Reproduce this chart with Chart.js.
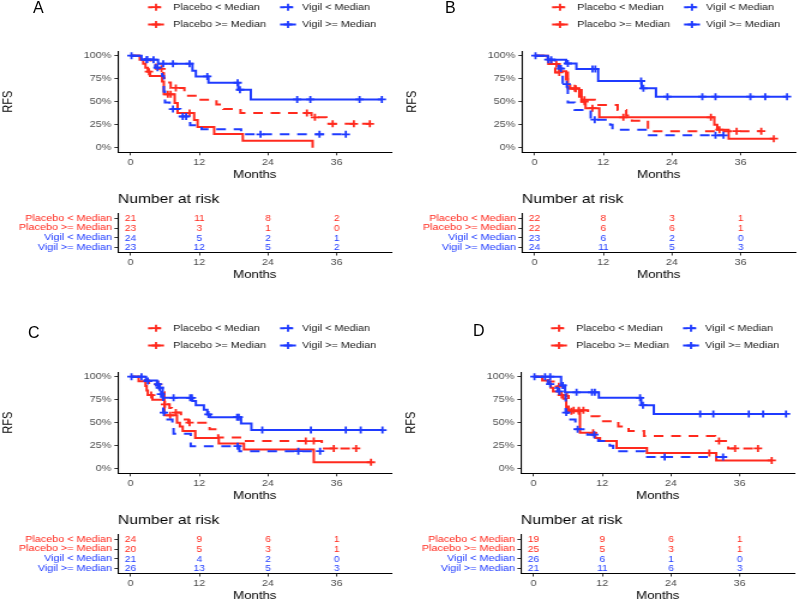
<!DOCTYPE html>
<html><head><meta charset="utf-8">
<script src="https://cdn.jsdelivr.net/npm/chart.js@4.4.1/dist/chart.umd.min.js"></script>
<style>
html,body{margin:0;padding:0;background:#fff;width:800px;height:601px;overflow:hidden;position:relative}
.wrap{position:absolute;transform-origin:0 0;}
.letter{position:absolute;font-family:"Liberation Sans",Arial,sans-serif;font-size:16px;color:#000;line-height:1}
</style></head><body>
<script>
// ---------------- DATA ----------------
const GROUP_NAMES = ['Placebo < Median', 'Placebo >= Median', 'Vigil < Median', 'Vigil >= Median'];
const X_TICKS = [0, 12, 24, 36];
const Y_TICKS = [0, 0.25, 0.5, 0.75, 1];
const RISK_TIMES = [0, 12, 24, 36];

// Panel A  (t = event times in months, s = survival after the event, c = censoring times)
const A_PL_LT_t = [2.5, 3.5, 4.4, 5.7, 5.8, 5.9, 7.0, 9.4, 11.9, 15.0, 16.2, 19.2, 31.6, 34.2];
const A_PL_LT_s = [0.952, 0.905, 0.857, 0.81, 0.76, 0.71, 0.65, 0.565, 0.52, 0.47, 0.42, 0.377, 0.33, 0.26];
const A_PL_LT_c = [5.4, 7.9, 30.8, 32.2, 35.3, 39.0, 41.8];
const A_PL_GE_t = [1.6, 2.2, 2.6, 3.0, 3.4, 5.5, 5.8, 7.7, 8.2, 11.1, 11.7, 14.6, 19.6, 31.8];
const A_PL_GE_s = [0.957, 0.913, 0.87, 0.826, 0.78, 0.72, 0.58, 0.485, 0.377, 0.30, 0.225, 0.15, 0.075, 0.0];
const A_PL_GE_c = [3.2, 6.5, 7.0, 10.3];
const A_VG_LT_t = [2.5, 4.3, 5.5, 5.8, 6.0, 6.8, 8.7, 10.4, 12.4, 19.3];
const A_VG_LT_s = [0.958, 0.87, 0.78, 0.61, 0.49, 0.42, 0.34, 0.245, 0.20, 0.145];
const A_VG_LT_c = [2.9, 4.7, 7.4, 9.1, 9.7, 22.7, 33.0, 37.6];
const A_VG_GE_t = [1.9, 4.8, 10.8, 11.4, 13.6, 18.8, 21.0];
const A_VG_GE_s = [0.957, 0.913, 0.837, 0.775, 0.706, 0.63, 0.525];
const A_VG_GE_c = [0.15, 2.8, 4.0, 5.7, 7.4, 10.3, 13.4, 18.7, 19.1, 29.1, 31.4, 40.0, 43.9];
const A_RISK_PL_LT = [21, 11, 8, 2];
const A_RISK_PL_GE = [23, 3, 1, 0];
const A_RISK_VG_LT = [24, 5, 2, 1];
const A_RISK_VG_GE = [23, 12, 5, 2];

// Panel B
const B_PL_LT_t = [1.6, 2.4, 3.0, 3.6, 5.8, 6.2, 8.2, 10.5, 14.5, 16.0, 17.0, 19.8];
const B_PL_LT_s = [0.955, 0.909, 0.864, 0.818, 0.74, 0.64, 0.52, 0.465, 0.41, 0.35, 0.293, 0.18];
const B_PL_LT_c = [4.3, 7.2, 8.7, 35.3, 39.6];
const B_PL_GE_t = [2.3, 2.9, 4.3, 5.5, 5.8, 7.8, 8.2, 8.9, 11.3, 31.4, 31.9, 33.9];
const B_PL_GE_s = [0.955, 0.91, 0.83, 0.74, 0.645, 0.555, 0.50, 0.43, 0.33, 0.25, 0.196, 0.098];
const B_PL_GE_c = [3.8, 7.0, 8.7, 10.1, 15.5, 30.8, 32.3, 41.8];
const B_VG_LT_t = [1.8, 3.5, 4.2, 4.9, 5.8, 7.0, 9.8, 13.2, 13.6, 19.4];
const B_VG_LT_s = [0.957, 0.91, 0.86, 0.69, 0.49, 0.41, 0.305, 0.25, 0.196, 0.134];
const B_VG_LT_c = [2.4, 4.6, 5.6, 10.5, 31.6, 33.0];
const B_VG_GE_t = [2.3, 5.5, 7.3, 11.1, 18.7, 21.2];
const B_VG_GE_s = [0.957, 0.915, 0.855, 0.725, 0.645, 0.555];
const B_VG_GE_c = [0.15, 2.9, 5.8, 10.1, 10.6, 18.6, 19.0, 23.2, 29.3, 31.6, 37.7, 40.3, 44.1];
const B_RISK_PL_LT = [22, 8, 3, 1];
const B_RISK_PL_GE = [22, 6, 6, 1];
const B_RISK_VG_LT = [23, 6, 2, 0];
const B_RISK_VG_GE = [24, 11, 5, 3];

// Panel C
const C_PL_LT_t = [2.5, 3.2, 5.0, 5.6, 5.9, 6.8, 7.2, 8.8, 10.1, 13.8, 15.3, 19.1, 33.4];
const C_PL_LT_s = [0.958, 0.917, 0.875, 0.83, 0.70, 0.66, 0.61, 0.535, 0.50, 0.43, 0.34, 0.30, 0.22];
const C_PL_LT_c = [4.8, 6.0, 7.9, 10.3, 30.6, 32.0, 35.5, 39.4];
const C_PL_GE_t = [1.4, 2.6, 2.8, 3.0, 3.8, 5.9, 8.1, 8.6, 9.1, 11.3, 15.4, 19.8, 32.0];
const C_PL_GE_s = [0.95, 0.90, 0.85, 0.80, 0.75, 0.58, 0.50, 0.46, 0.41, 0.335, 0.275, 0.21, 0.07];
const C_PL_GE_c = [3.6, 6.9, 42.0];
const C_VG_LT_t = [2.5, 4.2, 5.0, 5.7, 6.0, 7.3, 7.5, 10.5, 19.0];
const C_VG_LT_s = [0.952, 0.905, 0.81, 0.61, 0.535, 0.46, 0.38, 0.245, 0.19];
const C_VG_LT_c = [3.0, 5.3, 5.8, 18.7, 29.3, 33.1];
const C_VG_GE_t = [2.7, 4.6, 5.0, 5.6, 10.8, 11.4, 12.8, 13.4, 13.9, 19.3, 21.1];
const C_VG_GE_s = [0.96, 0.92, 0.88, 0.77, 0.735, 0.69, 0.64, 0.59, 0.56, 0.49, 0.42];
const C_VG_GE_c = [0.15, 1.9, 4.8, 5.1, 7.5, 10.4, 10.7, 13.6, 18.6, 18.9, 23.0, 31.5, 37.6, 40.2, 44.0];
const C_RISK_PL_LT = [24, 9, 6, 1];
const C_RISK_PL_GE = [20, 5, 3, 1];
const C_RISK_VG_LT = [21, 4, 2, 0];
const C_RISK_VG_GE = [26, 13, 5, 3];

// Panel D
const D_PL_LT_t = [2.5, 3.8, 5.2, 5.8, 6.1, 9.5, 11.5, 14.8, 16.6, 19.3, 31.7, 34.0];
const D_PL_LT_s = [0.947, 0.895, 0.84, 0.79, 0.635, 0.57, 0.516, 0.46, 0.41, 0.355, 0.30, 0.22];
const D_PL_LT_c = [4.4, 7.0, 7.9, 8.7, 32.4, 35.2, 39.2];
const D_PL_GE_t = [1.5, 2.6, 3.0, 3.4, 4.5, 5.2, 5.7, 8.1, 10.8, 11.6, 14.5, 19.8, 31.9];
const D_PL_GE_s = [0.96, 0.92, 0.88, 0.84, 0.80, 0.76, 0.625, 0.39, 0.335, 0.30, 0.225, 0.17, 0.09];
const D_PL_GE_c = [4.9, 6.6, 7.9, 10.4, 30.7, 41.6];
const D_VG_LT_t = [2.0, 2.5, 3.8, 4.2, 5.6, 6.0, 7.3, 9.4, 11.3, 13.3, 13.9, 19.4];
const D_VG_LT_s = [0.96, 0.92, 0.88, 0.84, 0.61, 0.535, 0.43, 0.37, 0.30, 0.25, 0.19, 0.127];
const D_VG_LT_c = [2.9, 4.5, 5.7, 7.7, 10.6, 22.9, 33.1];
const D_VG_GE_t = [4.8, 5.5, 11.4, 18.8, 21.0];
const D_VG_GE_s = [0.905, 0.83, 0.77, 0.69, 0.595];
const D_VG_GE_c = [0.15, 2.0, 2.9, 5.1, 7.5, 10.2, 10.7, 18.6, 19.1, 29.1, 31.4, 37.6, 40.1, 44.1];
const D_RISK_PL_LT = [19, 9, 6, 1];
const D_RISK_PL_GE = [25, 5, 3, 1];
const D_RISK_VG_LT = [26, 6, 1, 0];
const D_RISK_VG_GE = [21, 11, 6, 3];

// ---------------- STYLE / LAYOUT ----------------
const K = 1.2;               // horizontal stretch of the original figure
const FONT = '"Liberation Sans", Arial, Helvetica, sans-serif';
const RED = '#FF2A1E', BLUE = '#1F3BFF';
const LW = 2;
const XMIN = -2.2, XMAX = 45.6;
const PLOT_LEFT = 118, PLOT_RIGHT = 392, PLOT_TOP = 51.1, PLOT_BOTTOM = 152.3, KM_H = 185;
const TAB_TOP = 185, TAB_H = 100, TAB_AREA_TOP = 213.3, TAB_AREA_BOTTOM = 252.5;

const PANELS = [
  {letter: 'A', ox: 0,   oy: 0,   lx: 33,  ly: 0,
   groups: [[A_PL_LT_t, A_PL_LT_s, A_PL_LT_c], [A_PL_GE_t, A_PL_GE_s, A_PL_GE_c], [A_VG_LT_t, A_VG_LT_s, A_VG_LT_c], [A_VG_GE_t, A_VG_GE_s, A_VG_GE_c]],
   risk: [A_RISK_PL_LT, A_RISK_PL_GE, A_RISK_VG_LT, A_RISK_VG_GE]},
  {letter: 'B', ox: 404, oy: 0,   lx: 445, ly: 0,
   groups: [[B_PL_LT_t, B_PL_LT_s, B_PL_LT_c], [B_PL_GE_t, B_PL_GE_s, B_PL_GE_c], [B_VG_LT_t, B_VG_LT_s, B_VG_LT_c], [B_VG_GE_t, B_VG_GE_s, B_VG_GE_c]],
   risk: [B_RISK_PL_LT, B_RISK_PL_GE, B_RISK_VG_LT, B_RISK_VG_GE]},
  {letter: 'C', ox: 0,   oy: 321, lx: 28,  ly: 324.7,
   groups: [[C_PL_LT_t, C_PL_LT_s, C_PL_LT_c], [C_PL_GE_t, C_PL_GE_s, C_PL_GE_c], [C_VG_LT_t, C_VG_LT_s, C_VG_LT_c], [C_VG_GE_t, C_VG_GE_s, C_VG_GE_c]],
   risk: [C_RISK_PL_LT, C_RISK_PL_GE, C_RISK_VG_LT, C_RISK_VG_GE]},
  {letter: 'D', ox: 403, oy: 321, lx: 473, ly: 323,
   groups: [[D_PL_LT_t, D_PL_LT_s, D_PL_LT_c], [D_PL_GE_t, D_PL_GE_s, D_PL_GE_c], [D_VG_LT_t, D_VG_LT_s, D_VG_LT_c], [D_VG_GE_t, D_VG_GE_s, D_VG_GE_c]],
   risk: [D_RISK_PL_LT, D_RISK_PL_GE, D_RISK_VG_LT, D_RISK_VG_GE]}
];
const GROUP_COLOR = [RED, RED, BLUE, BLUE];
const GROUP_DASHED = [true, false, true, false];
// legend slots (css px relative to panel): [symbol start, symbol end, text start, row y]
const LEGEND_SLOTS = [[148, 164, 173, 7.2], [148, 164, 173, 24.5], [280, 296, 302, 7.2], [280, 296, 302, 24.5]];

function buildSteps(t, s, c) {
  const pts = [{x: 0, y: 1}];
  const all = t.map((v, i) => ({x: v, y: s[i], c: false})).concat(c.map(v => ({x: v, c: true})))
    .sort((a, b) => a.x - b.x);
  let level = 1;
  for (const p of all) {
    if (p.c) pts.push({x: p.x, y: level, c: true});
    else { level = p.y; pts.push({x: p.x, y: p.y, c: false}); }
  }
  return pts;
}

function makeCanvas(left, top, h) {
  const wrap = document.createElement('div');
  wrap.className = 'wrap';
  wrap.style.left = left + 'px';
  wrap.style.top = top + 'px';
  wrap.style.transform = 'scaleX(' + K + ')';
  const cv = document.createElement('canvas');
  cv.width = Math.round(400 / K);
  cv.height = h;
  wrap.appendChild(cv);
  document.body.appendChild(wrap);
  return cv;
}

function drawCross(ctx, x, y, r) {
  ctx.beginPath();
  ctx.moveTo(x - r, y); ctx.lineTo(x + r, y);
  ctx.moveTo(x, y - r); ctx.lineTo(x, y + r);
  ctx.stroke();
}

const legendPlugin = {
  id: 'kmLegend',
  afterDraw(chart) {
    const ctx = chart.ctx;
    ctx.save();
    ctx.font = '9px ' + FONT;
    ctx.textBaseline = 'middle';
    ctx.textAlign = 'left';
    [0, 1, 2, 3].forEach(g => {
      const [a, b, tx, y] = LEGEND_SLOTS[g];
      ctx.strokeStyle = GROUP_COLOR[g];
      ctx.lineWidth = LW;
      ctx.setLineDash(GROUP_DASHED[g] ? [4, 3] : []);
      ctx.beginPath(); ctx.moveTo(a / K, y); ctx.lineTo(b / K, y); ctx.stroke();
      ctx.setLineDash([]);
      ctx.lineWidth = 1.8;
      drawCross(ctx, (a + b) / 2 / K, y, 3.5);
      ctx.fillStyle = '#1A1A1A';
      ctx.fillText(GROUP_NAMES[g], tx / K, y);
    });
    ctx.restore();
  }
};

function axisCommon() {
  return {
    grid: {display: true, drawOnChartArea: false, drawTicks: true, tickLength: 3, color: '#333', lineWidth: 1},
    border: {display: true, color: '#000', width: 1.1}
  };
}

function xAxis(height) {
  return Object.assign(axisCommon(), {
    type: 'linear', min: XMIN, max: XMAX,
    afterBuildTicks: s => { s.ticks = X_TICKS.map(v => ({value: v})); },
    afterFit: s => { s.height = height; },
    ticks: {font: {size: 9, family: FONT}, color: '#4D4D4D', padding: 2, maxRotation: 0, autoSkip: false,
            callback: v => String(v)},
    title: {display: true, text: 'Months', font: {size: 11, family: FONT}, color: '#000', padding: {top: 0, bottom: 3}}
  });
}

function makeKM(p) {
  const cv = makeCanvas(p.ox, p.oy, KM_H);
  const order = [3, 2, 1, 0]; // first dataset is drawn on top
  const datasets = order.map(g => {
    const [t, s, c] = p.groups[g];
    return {
      label: GROUP_NAMES[g],
      data: buildSteps(t, s, c),
      stepped: true,
      borderColor: GROUP_COLOR[g],
      backgroundColor: GROUP_COLOR[g],
      borderWidth: LW,
      borderDash: GROUP_DASHED[g] ? [8, 6.5] : [],
      fill: false,
      pointStyle: 'cross',
      pointRadius: ctx => (ctx.raw && ctx.raw.c) ? 3.5 : 0,
      pointHoverRadius: 0,
      pointBorderWidth: 1.8,
      pointBorderColor: GROUP_COLOR[g]
    };
  });
  new Chart(cv, {
    type: 'line',
    data: {datasets},
    options: {
      responsive: false, animation: false, events: [],
      layout: {padding: {top: PLOT_TOP, right: (400 - PLOT_RIGHT) / K, left: 0, bottom: 0}},
      plugins: {legend: {display: false}, tooltip: {enabled: false}},
      scales: {
        x: xAxis(KM_H - PLOT_BOTTOM),
        y: Object.assign(axisCommon(), {
          type: 'linear', min: -0.05, max: 1.05,
          afterBuildTicks: s => { s.ticks = Y_TICKS.map(v => ({value: v})); },
          afterFit: s => { s.width = PLOT_LEFT / K; },
          ticks: {font: {size: 9, family: FONT}, color: '#4D4D4D', padding: 2.5, autoSkip: false,
                  callback: v => Math.round(v * 100) + '%'},
          title: {display: true, text: 'RFS', font: {size: 11, family: FONT}, color: '#000', padding: {top: 0, bottom: 0}}
        })
      }
    },
    plugins: [legendPlugin]
  });
}

function makeRisk(p) {
  const cv = makeCanvas(p.ox, p.oy + TAB_TOP, TAB_H);
  const riskPlugin = {
    id: 'riskNumbers',
    afterDraw(chart) {
      const {ctx, scales: {x, y}, chartArea} = chart;
      ctx.save();
      ctx.fillStyle = '#000';
      ctx.font = '13px ' + FONT;
      ctx.textAlign = 'left';
      ctx.textBaseline = 'middle';
      ctx.fillText('Number at risk', chartArea.left, 199 - TAB_TOP);
      ctx.font = '8.5px ' + FONT;
      ctx.textAlign = 'center';
      p.risk.forEach((row, r) => {
        ctx.fillStyle = GROUP_COLOR[r];
        row.forEach((n, j) => {
          ctx.fillText(String(n), x.getPixelForValue(RISK_TIMES[j]), y.getPixelForValue(4 - r) + 0.5);
        });
      });
      ctx.restore();
    }
  };
  new Chart(cv, {
    type: 'scatter',
    data: {datasets: [{data: [], pointRadius: 0}]},
    options: {
      responsive: false, animation: false, events: [],
      layout: {padding: {top: TAB_AREA_TOP - TAB_TOP, right: (400 - PLOT_RIGHT) / K, left: 0, bottom: 0}},
      plugins: {legend: {display: false}, tooltip: {enabled: false}},
      scales: {
        x: xAxis(TAB_H - (TAB_AREA_BOTTOM - TAB_TOP)),
        y: Object.assign(axisCommon(), {
          type: 'linear', min: 0.5, max: 4.5,
          afterBuildTicks: s => { s.ticks = [1, 2, 3, 4].map(v => ({value: v})); },
          afterFit: s => { s.width = PLOT_LEFT / K; },
          ticks: {font: {size: 9, family: FONT}, padding: 2, autoSkip: false,
                  color: ctx => (ctx.tick && ctx.tick.value >= 3) ? RED : BLUE,
                  callback: v => GROUP_NAMES[4 - v]}
        })
      }
    },
    plugins: [riskPlugin]
  });
}

PANELS.forEach(p => {
  makeKM(p);
  makeRisk(p);
  const d = document.createElement('div');
  d.className = 'letter';
  d.style.left = p.lx + 'px';
  d.style.top = p.ly + 'px';
  d.textContent = p.letter;
  document.body.appendChild(d);
});
</script>
</body></html>
